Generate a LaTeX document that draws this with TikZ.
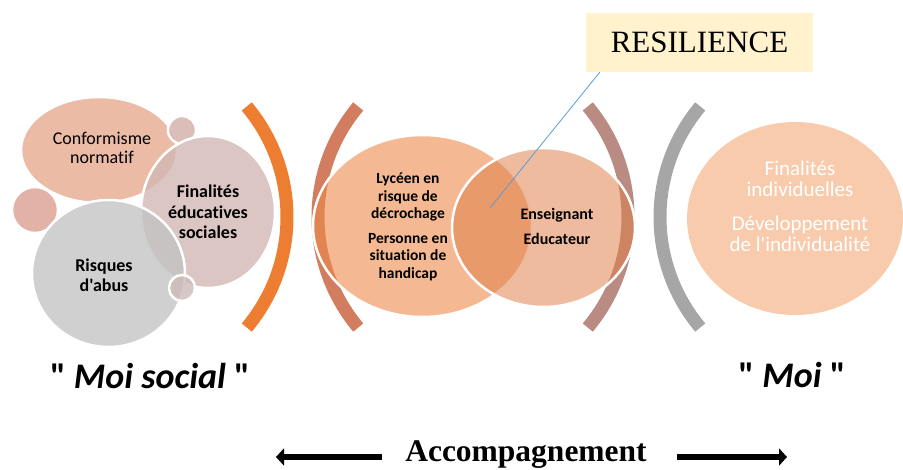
\documentclass[tikz,border=0pt]{standalone}
\usepackage{fontspec}
\setmainfont{Carlito}[Ligatures={TeXOff,NoCommon}]
\newfontfamily\timesfont{Liberation Serif}
\usetikzlibrary{shapes.geometric,arrows.meta}

\definecolor{conformcol}{RGB}{230,170,144}
\definecolor{finsoccol}{RGB}{210,184,180}
\definecolor{risquecol}{RGB}{196,196,196}
\definecolor{dotacol}{RGB}{211,174,168}
\definecolor{dotbcol}{RGB}{218,159,143}
\definecolor{dotccol}{RGB}{205,186,184}
\definecolor{lyceecol}{RGB}{237,138,73}
\definecolor{enseigcol}{RGB}{223,126,72}
\definecolor{moicol}{RGB}{248,203,173}
\definecolor{orangebr}{RGB}{237,125,49}
\definecolor{salmonbr}{RGB}{210,125,95}
\definecolor{brownbr}{RGB}{185,139,130}
\definecolor{graybr}{RGB}{166,166,166}
\definecolor{resilcol}{RGB}{255,242,204}
\definecolor{linecol}{RGB}{91,155,213}

\tikzset{
  bubble/.style={ellipse, draw=white, line width=2.5pt, inner sep=0pt, fill opacity=0.8},
  venn/.style={ellipse, draw=white, line width=2.5pt, inner sep=0pt},
  bracket/.style={line width=13pt},
  bigarrow/.style={line width=6.5pt, -{Triangle[length=8pt,width=17pt]}},
}

\begin{document}
\begin{tikzpicture}[x=1pt,y=-1pt]
\useasboundingbox (0,0) rectangle (903,470);

% moi social
\node[bubble, fill=conformcol, minimum width=156pt, minimum height=106pt] (conform) at (99,150) {};
\node[bubble, fill=dotacol, minimum width=28pt, minimum height=28pt] (dota) at (182,130) {};
\node[bubble, fill=finsoccol, minimum width=134pt, minimum height=152pt] (finsoc) at (208,212) {};
\node[bubble, fill=dotbcol, minimum width=46pt, minimum height=46pt] (dotb) at (35,210) {};
\node[bubble, fill=risquecol, minimum width=153pt, minimum height=147pt] (risque) at (108.5,273.5) {};
\node[bubble, fill=dotccol, minimum width=26pt, minimum height=26pt] (dotc) at (182,288) {};

\node[font=\fontsize{18}{19.5}\selectfont, align=center] (conformtxt) at (102,148) {Conformisme\\normatif};
\node[font=\fontsize{18}{20.5}\selectfont\bfseries, align=center] (finsoctxt) at (208,212) {Finalités\\éducatives\\sociales};
\node[font=\fontsize{18}{20}\selectfont\bfseries, align=center] (risquetxt) at (104,275) {Risques\\d'abus};

% parentheses
\foreach \cx/\a/\c in {115/0/orangebr, 490/180/salmonbr, 456/0/brownbr, 832/180/graybr}
  \draw[bracket, \c] (\cx,217) ++(\a-40:172pt) arc[start angle=\a-40, end angle=\a+40, radius=172pt];

% accompagnement
\node[venn, fill=lyceecol, fill opacity=0.6, minimum width=219pt, minimum height=182pt] (lycee) at (422.5,226) {};
\node[venn, fill=enseigcol, fill opacity=0.53, minimum width=183pt, minimum height=159pt] (enseig) at (543.5,227.5) {};

\node[font=\fontsize{15.5}{17.5}\selectfont\bfseries, align=center] (lyceetxt) at (408,227)
  {Lycéen en\\risque de\\décrochage\\[7pt]Personne en\\situation de\\handicap};
\node[font=\fontsize{16}{17.5}\selectfont\bfseries, align=center] (enseigtxt) at (557,226)
  {Enseignant\\[7.5pt]Educateur};

% moi
\node[ellipse, fill=moicol, inner sep=0pt, minimum width=216pt, minimum height=193pt] (moi) at (795,218.5) {};
\node[font=\fontsize{21}{21}\selectfont, text=white, align=center] (moitxt) at (800,206)
  {Finalités\\individuelles\\[13pt]Développement\\de l'individualité};

% resilience
\node[fill=resilcol, minimum width=227pt, minimum height=59pt, inner sep=0pt,
  font=\timesfont\fontsize{31}{31}\selectfont] (resil) at (699.5,42.5) {RESILIENCE};
\coordinate (overlap) at (490,208);
\draw[linecol, line width=0.8pt] (overlap) -- ([xshift=14pt]resil.south west);

% labels
\node[anchor=base, font=\fontsize{36}{36}\selectfont\bfseries] (moisocial) at (150,389) {" \textit{Moi social} "};
\node[anchor=base, font=\fontsize{36}{36}\selectfont\bfseries] (moilbl) at (792,388) {" \textit{Moi} "};
\node[anchor=base, font=\timesfont\fontsize{31.5}{31.5}\selectfont\bfseries] (accomp) at (526,461) {Accompagnement};

\coordinate (la) at (382,457);
\coordinate (lb) at (276,457);
\coordinate (ra) at (677,457);
\coordinate (rb) at (787,457);
\draw[bigarrow] (la) -- (lb);
\draw[bigarrow] (ra) -- (rb);
\end{tikzpicture}
\end{document}
